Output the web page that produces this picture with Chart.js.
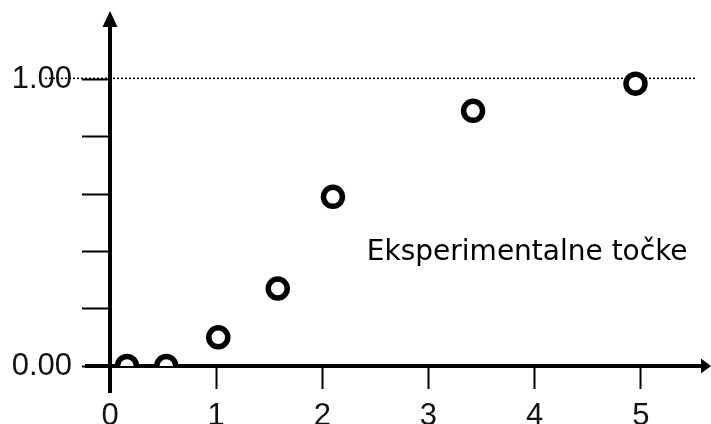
<!DOCTYPE html>
<html>
<head>
<meta charset="utf-8">
<script src="https://cdn.jsdelivr.net/npm/chart.js@4.4.1/dist/chart.umd.min.js"></script>
<style>
  html, body { margin: 0; padding: 0; background: #ffffff; }
  #c { display: block; }
</style>
</head>
<body>
<canvas id="c" width="711" height="424"></canvas>
<script>
// ---- data ----
const xValues = [0.16, 0.53, 1.02, 1.58, 2.10, 3.42, 4.95];
const yValues = [0.00, 0.00, 0.10, 0.27, 0.59, 0.89, 0.985];
const xTickValues = [0, 1, 2, 3, 4, 5];
const yTickValues = [0, 0.2, 0.4, 0.6, 0.8, 1.0];
const yLabelledTicks = [0, 1];
const referenceLine = 1.0;
const annotationText = 'Eksperimentalne točke';
const annotationAt = { x: 3.93, y: 0.37 };

const points = xValues.map((x, i) => ({ x: x, y: yValues[i] }));

const axesPlugin = {
  id: 'axesPlugin',
  beforeDatasetsDraw(chart) {
    const ctx = chart.ctx;
    const xs = chart.scales.x, ys = chart.scales.y;
    const ox = xs.getPixelForValue(0);
    const oy = ys.getPixelForValue(0);
    const area = chart.chartArea;
    ctx.save();
    // dotted reference line at 1.00
    const ry = ys.getPixelForValue(referenceLine) - 1;
    ctx.strokeStyle = '#000';
    ctx.lineWidth = 1.5;
    ctx.setLineDash([2, 2]);
    ctx.beginPath();
    ctx.moveTo(45, ry);
    ctx.lineTo(area.right, ry);
    ctx.stroke();
    ctx.setLineDash([]);
    // y axis
    ctx.lineWidth = 4;
    ctx.beginPath();
    ctx.moveTo(ox, oy + 27);
    ctx.lineTo(ox, 24);
    ctx.stroke();
    // x axis
    ctx.beginPath();
    ctx.moveTo(ox - 25, oy);
    ctx.lineTo(chart.width - 8, oy);
    ctx.stroke();
    // arrow heads
    ctx.fillStyle = '#000';
    ctx.beginPath();
    ctx.moveTo(ox, 11);
    ctx.lineTo(ox - 7.5, 27);
    ctx.lineTo(ox + 7.5, 27);
    ctx.closePath();
    ctx.fill();
    ctx.beginPath();
    ctx.moveTo(chart.width, oy);
    ctx.lineTo(chart.width - 10, oy - 7.5);
    ctx.lineTo(chart.width - 10, oy + 7.5);
    ctx.closePath();
    ctx.fill();
    ctx.restore();
  },
  afterDatasetsDraw(chart) {
    const ctx = chart.ctx;
    const xs = chart.scales.x, ys = chart.scales.y;
    ctx.save();
    ctx.fillStyle = '#000';
    ctx.font = '28px "DejaVu Sans"';
    ctx.textAlign = 'center';
    ctx.textBaseline = 'alphabetic';
    ctx.fillText(annotationText, xs.getPixelForValue(annotationAt.x), ys.getPixelForValue(annotationAt.y));
    ctx.restore();
  }
};

new Chart(document.getElementById('c'), {
  type: 'scatter',
  data: {
    datasets: [{
      data: points,
      pointRadius: 9.5,
      pointHoverRadius: 9.5,
      pointBorderWidth: 5.5,
      pointBorderColor: '#000',
      pointBackgroundColor: '#fff',
      showLine: false
    }]
  },
  options: {
    responsive: false,
    animation: false,
    events: [],
    layout: { padding: { top: 22, right: 7, left: 0, bottom: 0 } },
    plugins: { legend: { display: false }, tooltip: { enabled: false } },
    scales: {
      x: {
        type: 'linear',
        min: 0,
        max: 5.52,
        afterFit(scale) { scale.height = 58; scale.paddingLeft = 0; scale.paddingRight = 0; },
        afterBuildTicks(scale) { scale.ticks = xTickValues.map(v => ({ value: v })); },
        border: { display: false },
        grid: {
          drawOnChartArea: false,
          drawTicks: true,
          tickLength: 23,
          tickWidth: 2,
          tickColor: '#000'
        },
        ticks: {
          color: '#111',
          padding: 9,
          maxRotation: 0,
          font: { family: '"Liberation Sans"', size: 31 },
          callback: (v) => String(v)
        }
      },
      y: {
        type: 'linear',
        min: 0,
        max: 1.2,
        afterFit(scale) { scale.width = 110; scale.paddingTop = 0; scale.paddingBottom = 0; },
        afterBuildTicks(scale) { scale.ticks = yTickValues.map(v => ({ value: v })); },
        border: { display: false },
        grid: {
          drawOnChartArea: false,
          drawTicks: true,
          tickLength: 28,
          tickWidth: 2,
          tickColor: '#000'
        },
        ticks: {
          color: '#111',
          padding: 10,
          font: { family: '"Liberation Sans"', size: 31 },
          callback: (v) => yLabelledTicks.some(t => Math.abs(t - v) < 1e-6) ? Number(v).toFixed(2) : ''
        }
      }
    }
  },
  plugins: [axesPlugin]
});
</script>
</body>
</html>
